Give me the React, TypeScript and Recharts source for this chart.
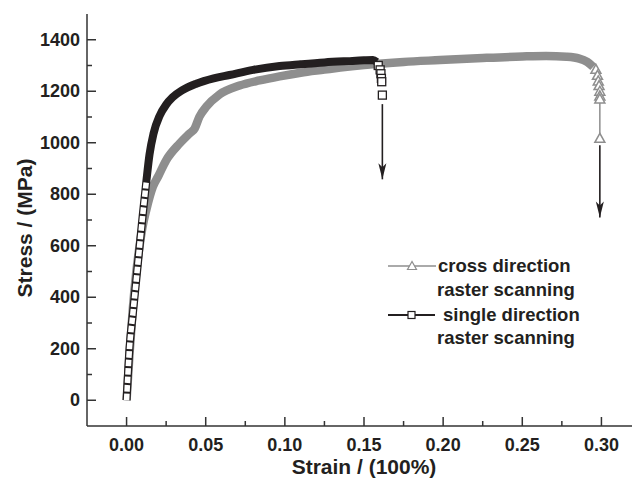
import React from "react";
import { LineChart, Line, XAxis, YAxis, Legend } from "recharts";

// cross direction raster scanning (grey, triangles)
const crossStrain = [
  0, 0.002, 0.004, 0.006, 0.008, 0.01, 0.0125, 0.0166, 0.02, 0.025, 0.0335, 0.0398, 0.043, 0.046,
  0.0504, 0.0588, 0.0714, 0.084, 0.0967, 0.11, 0.125, 0.135, 0.15, 0.175, 0.198, 0.225, 0.25,
  0.265, 0.278, 0.286, 0.291, 0.2948,
];
const crossStress = [
  0, 190, 360, 490, 590, 670, 740, 829, 870, 932, 997, 1036, 1055, 1101, 1140, 1188, 1222, 1242,
  1258, 1272, 1284, 1292, 1302, 1314, 1321, 1329, 1335, 1337, 1334, 1327, 1314, 1295,
];
const crossTailStrain = [0.2965, 0.2975, 0.298, 0.2985, 0.299, 0.299, 0.299, 0.299];
const crossTailStress = [1285, 1262, 1240, 1222, 1200, 1182, 1170, 1017];

// single direction raster scanning (black, squares)
const singleStrain = [
  0, 0.0019, 0.004, 0.0061, 0.0082, 0.0103, 0.0124, 0.0145, 0.017, 0.0209, 0.025, 0.029, 0.035,
  0.044, 0.055, 0.065, 0.08, 0.0967, 0.11, 0.125, 0.14, 0.15, 0.1557, 0.158,
];
const singleStress = [
  0, 207, 337, 466, 596, 725, 845, 955, 1035, 1105, 1148, 1176, 1203, 1229, 1250, 1263, 1283,
  1298, 1305, 1312, 1317, 1320, 1321, 1314,
];
const singleTailStrain = [0.159, 0.1602, 0.1607, 0.161, 0.1612, 0.1616];
const singleTailStress = [1300, 1283, 1268, 1250, 1237, 1185];

// fracture arrows
const singleArrowStrain = [0.1616, 0.1616];
const singleArrowStress = [1150, 858];
const crossArrowStrain = [0.299, 0.299];
const crossArrowStress = [990, 710];

const xTicks = [0, 0.025, 0.05, 0.075, 0.1, 0.125, 0.15, 0.175, 0.2, 0.225, 0.25, 0.275, 0.3];
const yTicks = [0, 100, 200, 300, 400, 500, 600, 700, 800, 900, 1000, 1100, 1200, 1300, 1400];
const legendLabels = ["cross direction", "raster scanning", "single direction", "raster scanning"];

const GREY = "#8e8e8e";
const BLACK = "#231f20";
const AXIS = "#333";
const FONT = '"Liberation Sans", Arial, sans-serif';

const toPoints = (xs: number[], ys: number[]) => xs.map((s, i) => ({ s, v: ys[i] }));

const crossData = toPoints(crossStrain, crossStress);
const crossTail = toPoints(crossTailStrain, crossTailStress);
const singleData = toPoints(singleStrain, singleStress);
const singleSteep = singleData.filter((d) => d.v <= 900);
const singleTail = toPoints(singleTailStrain, singleTailStress);
const singleArrow = toPoints(singleArrowStrain, singleArrowStress);
const crossArrow = toPoints(crossArrowStrain, crossArrowStress);

const isMajor = (v: number, step: number) => Math.abs(v / step - Math.round(v / step)) < 1e-6;

const XTick = (props: any) => {
  const { x, y, payload } = props;
  const major = isMajor(payload.value, 0.05);
  return (
    <g>
      <line x1={x} y1={y} x2={x} y2={y - (major ? 9 : 5)} stroke={AXIS} strokeWidth={1.5} />
      {major && (
        <text x={x} y={y + 19} textAnchor="middle" dominantBaseline="central" fill={BLACK}
          fontFamily={FONT} fontWeight="bold" fontSize={18}>
          {payload.value.toFixed(2)}
        </text>
      )}
    </g>
  );
};

const TopTick = (props: any) => {
  const { x, y } = props;
  return <line x1={x} y1={y} x2={x} y2={y + 3} stroke={AXIS} strokeWidth={1.2} />;
};

const YTick = (props: any) => {
  const { x, y, payload } = props;
  const major = isMajor(payload.value, 200);
  return (
    <g>
      <line x1={x} y1={y} x2={x + (major ? 9 : 5)} y2={y} stroke={AXIS} strokeWidth={1.5} />
      {major && (
        <text x={x - 7} y={y} textAnchor="end" dominantBaseline="central" fill={BLACK}
          fontFamily={FONT} fontWeight="bold" fontSize={18}>
          {payload.value}
        </text>
      )}
    </g>
  );
};

const triangleDot = (p: any) => (
  <polygon key={`t${p.index}`} points={`${p.cx},${p.cy - 5} ${p.cx - 5},${p.cy + 4} ${p.cx + 5},${p.cy + 4}`}
    fill="#fff" stroke={GREY} strokeWidth={1.5} />
);

const squareDot = (p: any) => (
  <rect key={`q${p.index}`} x={p.cx - 4} y={p.cy - 4} width={8} height={8}
    fill="#fff" stroke={BLACK} strokeWidth={1.3} />
);

const arrowHead = (p: any) =>
  p.index === 1 ? (
    <polygon key={`a${p.index}`} points={`${p.cx - 4},${p.cy - 16} ${p.cx},${p.cy - 12} ${p.cx + 4},${p.cy - 16} ${p.cx},${p.cy}`}
      fill={BLACK} />
  ) : (
    <g key={`a${p.index}`} />
  );

const LegendBox = () => {
  const textStyle: React.CSSProperties = {
    position: "absolute", left: 49, fontFamily: FONT, fontWeight: "bold", fontSize: 18.5,
    color: BLACK, lineHeight: "24px", whiteSpace: "nowrap",
  };
  return (
    <div style={{ position: "relative", width: 240, height: 100 }}>
      <svg width={50} height={24} style={{ position: "absolute", left: 0, top: 0 }}>
        <line x1={0} y1={12} x2={48} y2={12} stroke={GREY} strokeWidth={1.5} />
        <polygon points="24,7.5 19.5,15.5 28.5,15.5" fill="#fff" stroke={GREY} strokeWidth={1.2} />
      </svg>
      <div style={{ ...textStyle, top: 0, left: 50 }}>{legendLabels[0]}</div>
      <div style={{ ...textStyle, top: 24 }}>{legendLabels[1]}</div>
      <svg width={50} height={24} style={{ position: "absolute", left: 0, top: 49 }}>
        <line x1={0} y1={12} x2={47} y2={12} stroke={BLACK} strokeWidth={1.8} />
        <rect x={20} y={8.5} width={7} height={7} fill="#fff" stroke={BLACK} strokeWidth={1.2} />
      </svg>
      <div style={{ ...textStyle, top: 49, left: 55 }}>{legendLabels[2]}</div>
      <div style={{ ...textStyle, top: 72 }}>{legendLabels[3]}</div>
    </div>
  );
};

export default function App() {
  return (
    <div style={{ position: "absolute", left: 0, top: 0, width: 632, height: 481, overflow: "hidden", background: "#fff" }}>
      <LineChart width={660} height={481} margin={{ top: 14, right: 19, bottom: 0, left: 0 }}>
        <XAxis
          type="number"
          dataKey="s"
          domain={[-0.025, 0.325]}
          ticks={xTicks}
          interval={0}
          allowDataOverflow
          height={55}
          tickSize={0}
          tickMargin={0}
          tickLine={false}
          tick={XTick}
          axisLine={{ stroke: AXIS, strokeWidth: 1.5 }}
          label={{
            content: ({ viewBox }: any) => (
              <text x={viewBox.x + viewBox.width / 2} y={viewBox.y + 40} textAnchor="middle"
                dominantBaseline="central" fill={BLACK} fontFamily={FONT} fontWeight="bold" fontSize={21}>
                Strain / (100%)
              </text>
            ),
          }}
        />
        <XAxis
          xAxisId="top"
          orientation="top"
          type="number"
          dataKey="s"
          domain={[-0.025, 0.325]}
          ticks={xTicks}
          interval={0}
          allowDataOverflow
          height={0}
          tickSize={0}
          tickMargin={0}
          tickLine={false}
          tick={TopTick}
          axisLine={{ stroke: AXIS, strokeWidth: 1.5 }}
        />
        <YAxis
          type="number"
          dataKey="v"
          domain={[-100, 1500]}
          ticks={yTicks}
          interval={0}
          allowDataOverflow
          width={87}
          tickSize={0}
          tickMargin={0}
          tickLine={false}
          tick={YTick}
          axisLine={{ stroke: AXIS, strokeWidth: 1.5 }}
          label={{
            content: ({ viewBox }: any) => (
              <text x={viewBox.x + 24} y={viewBox.y + viewBox.height / 2 + 8} textAnchor="middle"
                dominantBaseline="central" fill={BLACK} fontFamily={FONT} fontWeight="bold" fontSize={21}
                transform={`rotate(-90, ${viewBox.x + 24}, ${viewBox.y + viewBox.height / 2 + 8})`}>
                Stress / (MPa)
              </text>
            ),
          }}
        />
        <Legend layout="vertical" align="center" verticalAlign="middle" content={LegendBox}
          wrapperStyle={{ left: 388, top: 254, width: 240, height: 100 }} />

        <Line data={crossData} dataKey="v" type="monotone" stroke={GREY} strokeWidth={8.5}
          strokeLinecap="butt" strokeLinejoin="round" dot={false} activeDot={false} isAnimationActive={false} />
        <Line data={crossTail} dataKey="v" type="linear" stroke={GREY} strokeWidth={1.5}
          dot={triangleDot} activeDot={false} isAnimationActive={false} />

        <Line data={singleData} dataKey="v" type="monotone" stroke={BLACK} strokeWidth={8}
          strokeLinecap="butt" strokeLinejoin="round" dot={false} activeDot={false} isAnimationActive={false} />
        <Line data={singleSteep} dataKey="v" type="monotone" stroke="#fff" strokeWidth={5.5}
          strokeDasharray="6.5 2" strokeLinecap="butt" dot={false} activeDot={false} isAnimationActive={false} />
        <Line data={singleTail} dataKey="v" type="linear" stroke="none"
          dot={squareDot} activeDot={false} isAnimationActive={false} />

        <Line data={singleArrow} dataKey="v" type="linear" stroke={BLACK} strokeWidth={1.6}
          dot={arrowHead} activeDot={false} isAnimationActive={false} />
        <Line data={crossArrow} dataKey="v" type="linear" stroke={BLACK} strokeWidth={1.6}
          dot={arrowHead} activeDot={false} isAnimationActive={false} />
      </LineChart>
    </div>
  );
}
